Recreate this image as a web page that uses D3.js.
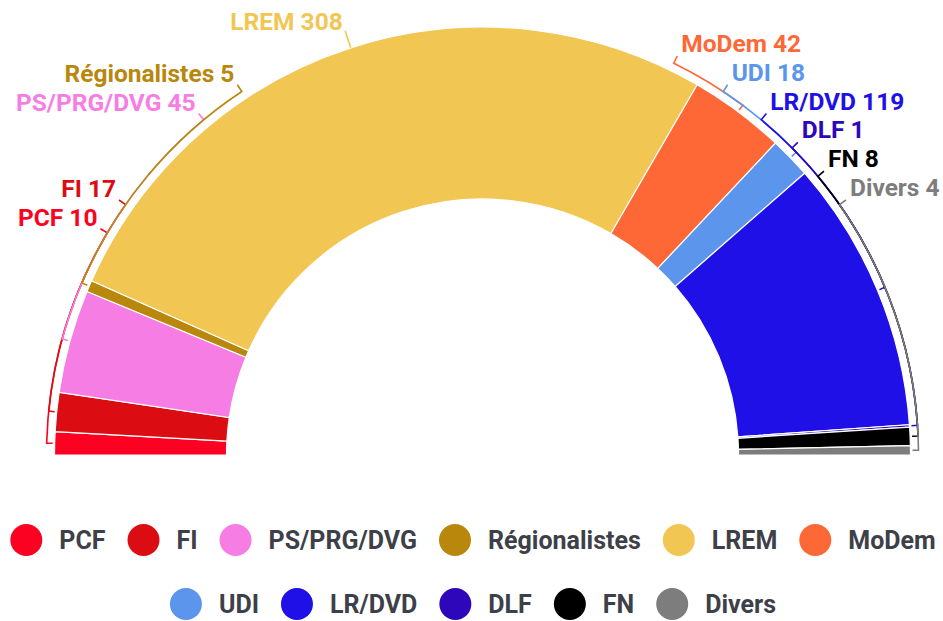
<!DOCTYPE html>
<html>
<head>
<meta charset="utf-8">
<script src="https://cdn.jsdelivr.net/npm/d3@7"></script>
<style>
  body { margin: 0; background: #ffffff; }
  svg text { font-family: Roboto, "Noto Sans", "DejaVu Sans", sans-serif; font-weight: 700; }
</style>
</head>
<body>
<svg id="chart" width="943" height="621"></svg>
<script>
// ---------- data ----------
const parties = ["PCF", "FI", "PS/PRG/DVG", "Régionalistes", "LREM", "MoDem", "UDI", "LR/DVD", "DLF", "FN", "Divers"];
const seats = [10, 17, 45, 5, 308, 42, 18, 119, 1, 8, 4];
const partyColors = ["#fb0223", "#dc0c13", "#f67de3", "#b8870c", "#f2c652", "#fe6836", "#5b96ec", "#1e10e6", "#2d07b9", "#000000", "#7d7d7d"];
const legendRow1 = ["PCF", "FI", "PS/PRG/DVG", "Régionalistes", "LREM", "MoDem"];
const legendRow2 = ["UDI", "LR/DVD", "DLF", "FN", "Divers"];

// ---------- layout ----------
const W = 943, H = 621;
const cx = 482.5, cy = 455;
const R = 428, r0 = 256;           // slice radii
const Rb = 436, Rt = 444;          // bracket radius, tick end radius
const rowTop = 52, rowStep = 28.8; // label rows (baselines)
// label row per party (null = label straight out from its slice)
const labelRow = { "PCF": 6, "FI": 5, "PS/PRG/DVG": 2, "Régionalistes": 1, "LREM": null,
                   "MoDem": 0, "UDI": 1, "LR/DVD": 2, "DLF": 3, "FN": 4, "Divers": 5 };

const svg = d3.select("#chart");
const color = d3.scaleOrdinal().domain(parties).range(partyColors);

const data = parties.map((p, i) => ({ party: p, seats: seats[i] }));
const pie = d3.pie().value(d => d.seats).sort(null)
  .startAngle(-Math.PI / 2).endAngle(Math.PI / 2);
const arcs = pie(data);
const arcGen = d3.arc().innerRadius(r0).outerRadius(R);

const g = svg.append("g").attr("transform", `translate(${cx},${cy})`);
g.selectAll("path.slice").data(arcs).join("path")
  .attr("class", "slice")
  .attr("d", arcGen)
  .attr("fill", d => color(d.data.party))
  .attr("stroke", "#fff")
  .attr("stroke-width", 1.2);

// ---------- labels with brackets ----------
const pt = (r, a) => [r * Math.sin(a), -r * Math.cos(a)];
const lab = svg.append("g").attr("transform", `translate(${cx},${cy})`);
arcs.forEach(d => {
  const mid = (d.startAngle + d.endAngle) / 2;
  const row = labelRow[d.data.party];
  let la = mid;
  if (row !== null && row !== undefined) {
    const tickY = rowTop + row * rowStep + 4;
    la = Math.sign(mid) * Math.acos((cy - tickY) / Rt);
  }
  const c = color(d.data.party);
  const p = d3.path();
  if (row === null) {
    p.moveTo(...pt(R, mid));
    p.lineTo(...pt(Rt + 2, mid));
  } else {
    p.moveTo(...pt(R + 2, mid));
    p.lineTo(...pt(Rb, mid));
    p.arc(0, 0, Rb, mid - Math.PI / 2, la - Math.PI / 2, la < mid);
    p.lineTo(...pt(Rt, la));
  }
  lab.append("path").attr("d", p.toString())
    .attr("fill", "none").attr("stroke", c).attr("stroke-width", 1.6);
  const [tx, ty] = pt(Rt, la);
  const right = la > 0;
  lab.append("text")
    .attr("x", right ? tx + 4 : tx - 3)
    .attr("y", right ? ty - 4 : ty - 3)
    .attr("text-anchor", right ? "start" : "end")
    .attr("fill", c)
    .attr("font-size", 24.5)
    .text(`${d.data.party} ${d.data.seats}`);
});

// ---------- legend ----------
function legendRow(items, yc) {
  const row = svg.append("g");
  let x = 0;
  items.forEach(name => {
    const it = row.append("g").attr("transform", `translate(${x},0)`);
    it.append("circle").attr("cx", 16).attr("cy", yc).attr("r", 16).attr("fill", color(name));
    const t = it.append("text").attr("x", 49).attr("y", yc + 9)
      .attr("font-size", 25).attr("fill", "#3d4048").text(name);
    x += 49 + t.node().getComputedTextLength() + 22;
  });
  const total = x - 22;
  row.attr("transform", `translate(${473 - total / 2},0)`);
}
legendRow(legendRow1, 540);
legendRow(legendRow2, 604);
</script>
</body>
</html>
